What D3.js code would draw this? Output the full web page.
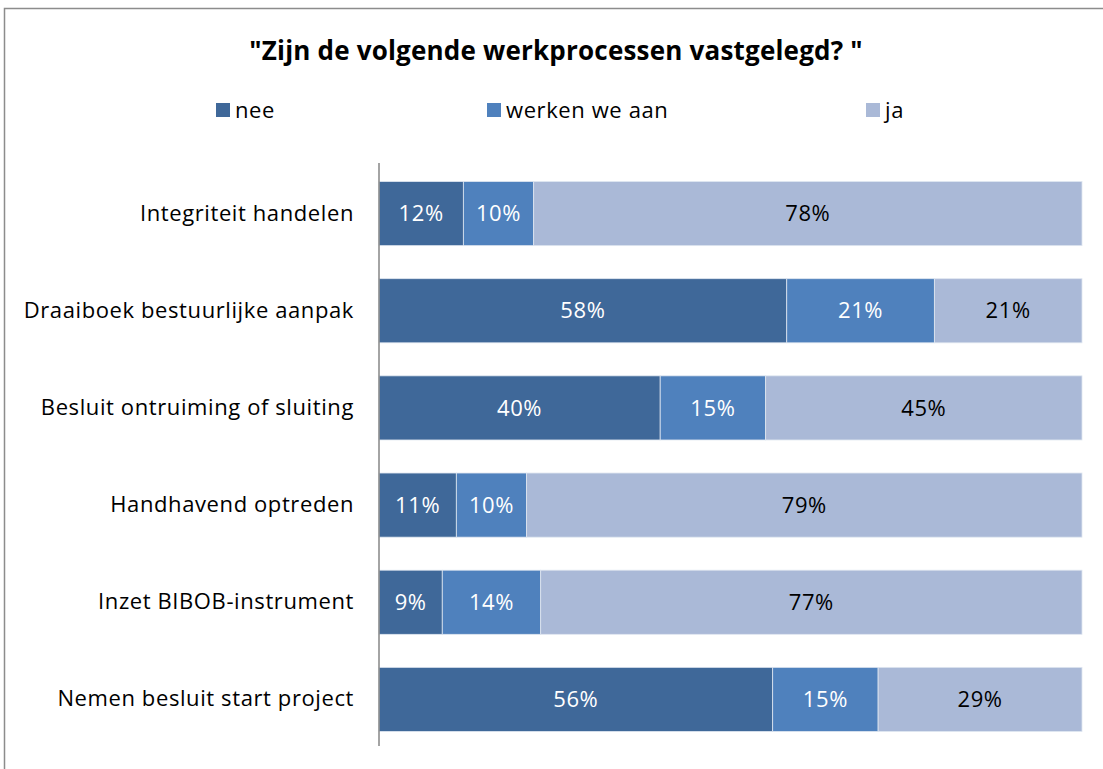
<!DOCTYPE html>
<html lang="nl">
<head>
<meta charset="UTF-8">
<title>Zijn de volgende werkprocessen vastgelegd?</title>
<script src="https://d3js.org/d3.v7.min.js"></script>
<style>
  body { margin: 0; background: #fff; }
  svg { display: block; font-family: "Open Sans", sans-serif; }
</style>
</head>
<body>
<svg id="chart" width="1103" height="769"></svg>
<script>
// data
const categories = [
  "Integriteit handelen",
  "Draaiboek bestuurlijke aanpak",
  "Besluit ontruiming of sluiting",
  "Handhavend optreden",
  "Inzet BIBOB-instrument",
  "Nemen besluit start project"
];
const seriesNames = ["nee", "werken we aan", "ja"];
const nee = [12, 58, 40, 11, 9, 56];
const werkenWeAan = [10, 21, 15, 10, 14, 15];
const ja = [78, 21, 45, 79, 77, 29];
const colors = ["#3f6899", "#4f81bd", "#aab9d7"];
const labelColors = ["#fff", "#fff", "#000"];

const rows = categories.map((c, i) => ({ cat: c, nee: nee[i], werken: werkenWeAan[i], ja: ja[i] }));
const keys = ["nee", "werken", "ja"];

const svg = d3.select("#chart");

// kader
svg.append("rect")
  .attr("x", 4.5).attr("y", 8.5)
  .attr("width", 1110).attr("height", 780)
  .attr("fill", "none").attr("stroke", "#8c8c8c").attr("stroke-width", 1.5);

svg.append("text")
  .attr("x", 556).attr("y", 60)
  .attr("text-anchor", "middle")
  .attr("font-size", 26).attr("font-weight", "bold")
  .attr("letter-spacing", 0.2)
  .text('"Zijn de volgende werkprocessen vastgelegd? "');

// legenda
const legendX = [216, 487, 866];
const legend = svg.append("g").selectAll("g")
  .data(seriesNames).join("g")
  .attr("transform", (d, i) => `translate(${legendX[i]},103)`);
legend.append("rect").attr("width", 14).attr("height", 14).attr("fill", (d, i) => colors[i]);
legend.append("text").attr("x", 19).attr("y", 15).attr("font-size", 22)
  .attr("letter-spacing", 0.6).text(d => d);

const x = d3.scaleLinear().domain([0, 100]).range([379, 1082]);
const y = d3.scaleBand().domain(categories).range([165, 748]).paddingInner(0.34).paddingOuter(0.17);

const stacked = d3.stack().keys(keys)(rows);

const layers = svg.append("g").selectAll("g")
  .data(stacked).join("g")
  .attr("fill", (d, i) => colors[i]);

layers.selectAll("rect")
  .data(d => d).join("rect")
  .attr("x", d => x(d[0]))
  .attr("y", d => y(d.data.cat))
  .attr("width", d => x(d[1]) - x(d[0]))
  .attr("height", y.bandwidth())
  .attr("stroke", "#dfe6f0").attr("stroke-width", 0.8);

layers.each(function (layer, i) {
  d3.select(this).selectAll("text")
    .data(layer).join("text")
    .attr("x", d => (x(d[0]) + x(d[1])) / 2)
    .attr("y", d => y(d.data.cat) + y.bandwidth() / 2)
    .attr("dy", "0.35em")
    .attr("text-anchor", "middle")
    .attr("font-size", 22)
    .attr("letter-spacing", 0.6)
    .attr("fill", labelColors[i])
    .text(d => (d[1] - d[0]) + "%");
});

// as
const yAxis = svg.append("g")
  .attr("transform", "translate(379,0)")
  .call(d3.axisLeft(y).tickSize(0).tickPadding(25));
yAxis.select(".domain").attr("stroke", "#868686").attr("stroke-width", 1.5)
  .attr("d", "M0,163V746");
yAxis.selectAll("text").attr("font-size", 22).attr("fill", "#000")
  .attr("letter-spacing", 0.6)
  .attr("font-family", "'Open Sans', sans-serif");
</script>
</body>
</html>
